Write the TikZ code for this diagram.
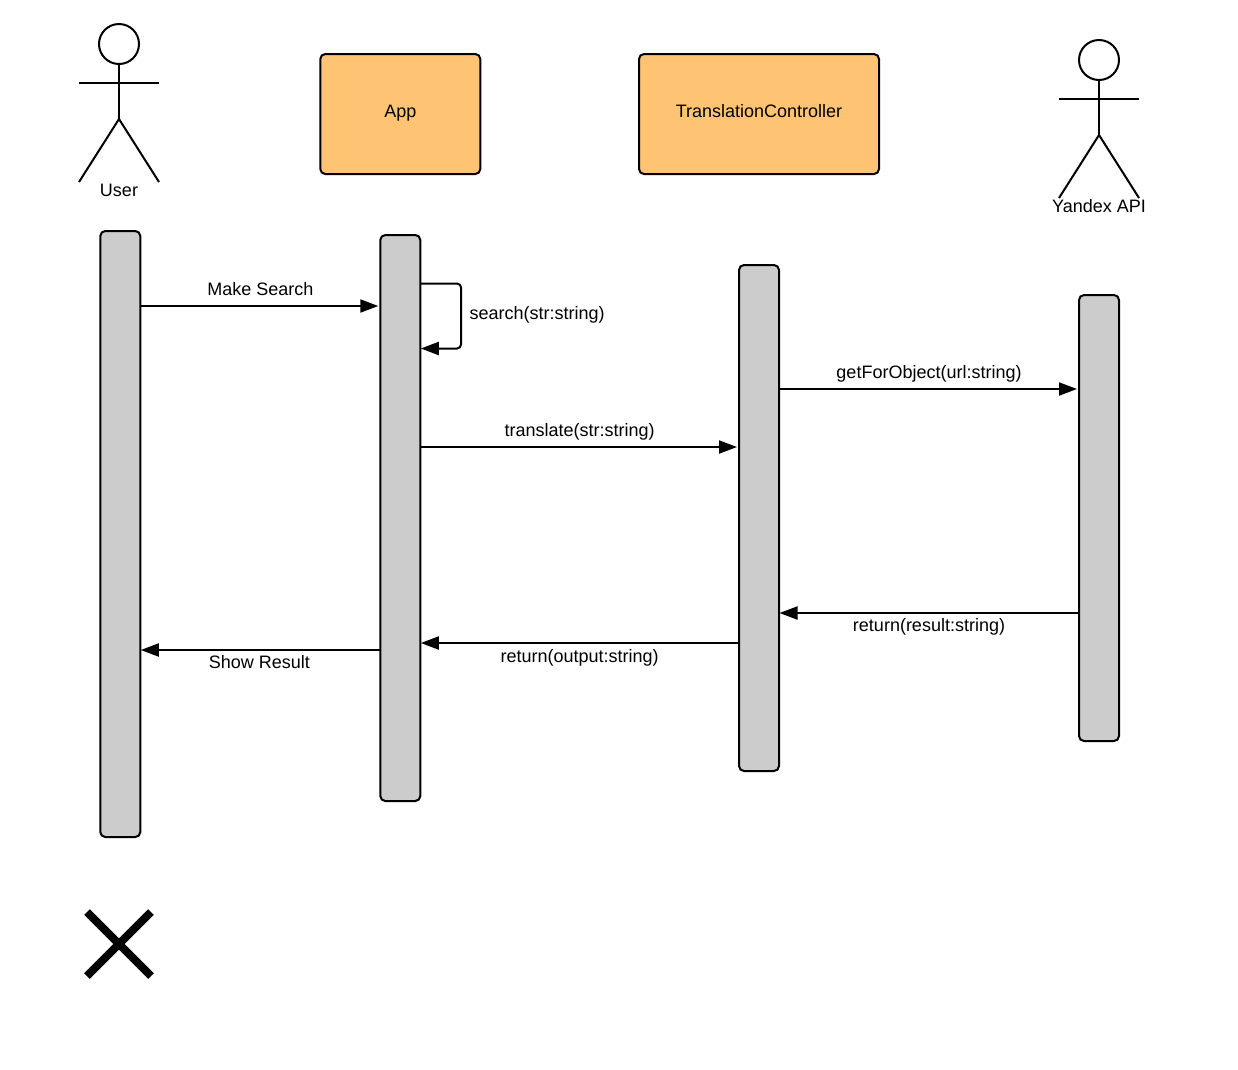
\documentclass[tikz,border=0pt]{standalone}
\usepackage{fontspec}
\setmainfont{Liberation Sans}
\usetikzlibrary{arrows.meta}
\definecolor{boxorange}{HTML}{FFC374}
\definecolor{bargray}{HTML}{CCCCCC}
\tikzset{
  x=1pt,y=-1pt,
  every node/.style={font=\fontsize{18}{21}\selectfont,inner sep=0pt,outer sep=0pt,text=black},
  part/.style={draw=black,line width=2pt,rounded corners=5pt,fill=boxorange,minimum height=120pt,align=center,text height=11pt,text depth=4pt},
  bar/.style={draw=black,line width=2pt,rounded corners=5pt,fill=bargray,minimum width=40pt},
  stick/.style={draw=black,line width=2pt},
  head/.style={circle,draw=black,line width=2pt,fill=white,minimum size=40pt},
  msg/.style={draw=black,line width=2pt,-{Triangle[length=18pt,width=13pt]}},
  msgr/.style={msg,shorten >=2pt},
  msgl/.style={msg,shorten >=0.5pt},
  lbl/.style={anchor=center}
}
\begin{document}
\begin{tikzpicture}
\useasboundingbox (0,0) rectangle (1238,1069);
% actors
\node[head] (uhead) at (119,44) {};
\coordinate (uhip) at (119,119);
\coordinate (uarmL) at (79,83);
\coordinate (uarmR) at (159,83);
\coordinate (ulegL) at (79,182);
\coordinate (ulegR) at (159,182);
\draw[stick] (uhead.south) -- (uhip);
\draw[stick] (uarmL) -- (uarmR);
\draw[stick] (ulegL) -- (uhip) -- (ulegR);
\node[lbl] (ulabel) at (119,190.5) {User};
\node[head] (yhead) at (1099,60) {};
\coordinate (yhip) at (1099,135);
\coordinate (yarmL) at (1059,99);
\coordinate (yarmR) at (1139,99);
\coordinate (ylegL) at (1059,198);
\coordinate (ylegR) at (1139,198);
\draw[stick] (yhead.south) -- (yhip);
\draw[stick] (yarmL) -- (yarmR);
\draw[stick] (ylegL) -- (yhip) -- (ylegR);
\node[lbl] (ylabel) at (1099,206.5) {Yandex API};
% objects
\node[part,minimum width=160pt] (app) at (400.3,114) {App};
\node[part,minimum width=240pt] (tc) at (759,114) {TranslationController};
% lifelines
\node[bar,minimum height=606pt] (ubar) at (120.3,534) {};
\node[bar,minimum height=566pt] (abar) at (400.3,518) {};
\node[bar,minimum height=506pt] (tbar) at (759,518) {};
\node[bar,minimum height=446pt] (ybar) at (1099,518) {};
% messages
\draw[msgr] (ubar.east |- 0,306) -- (abar.west |- 0,306) node[pos=0.5,yshift=17pt] (m1) {Make Search};
\draw[msgl,rounded corners=4pt] (abar.east |- 0,283.5) -| (461,348.5) -- (abar.east |- 0,348.5);
\node[lbl,anchor=west] (m2) at (469.5,314.5) {search(str:string)};
\draw[msgr] (abar.east |- 0,447) -- (tbar.west |- 0,447) node[pos=0.5,yshift=15pt] (m3) {translate(str:string)};
\draw[msgr] (tbar.east |- 0,389) -- (ybar.west |- 0,389) node[pos=0.5,yshift=15.5pt] (m4) {getForObject(url:string)};
\draw[msgl] (ybar.west |- 0,613) -- (tbar.east |- 0,613) node[pos=0.5,yshift=-14pt] (m5) {return(result:string)};
\draw[msgl] (tbar.west |- 0,643) -- (abar.east |- 0,643) node[pos=0.5,yshift=-15pt] (m6) {return(output:string)};
\draw[msgl] (abar.west |- 0,650) -- (ubar.east |- 0,650) node[pos=0.5,yshift=-12pt,xshift=-1pt] (m7) {Show Result};
% destruction mark
\coordinate (xa) at (87,912);
\coordinate (xb) at (151,976);
\coordinate (xc) at (151,912);
\coordinate (xd) at (87,976);
\draw[line width=8pt,draw=black] (xa) -- (xb);
\draw[line width=8pt,draw=black] (xc) -- (xd);
\end{tikzpicture}
\end{document}
